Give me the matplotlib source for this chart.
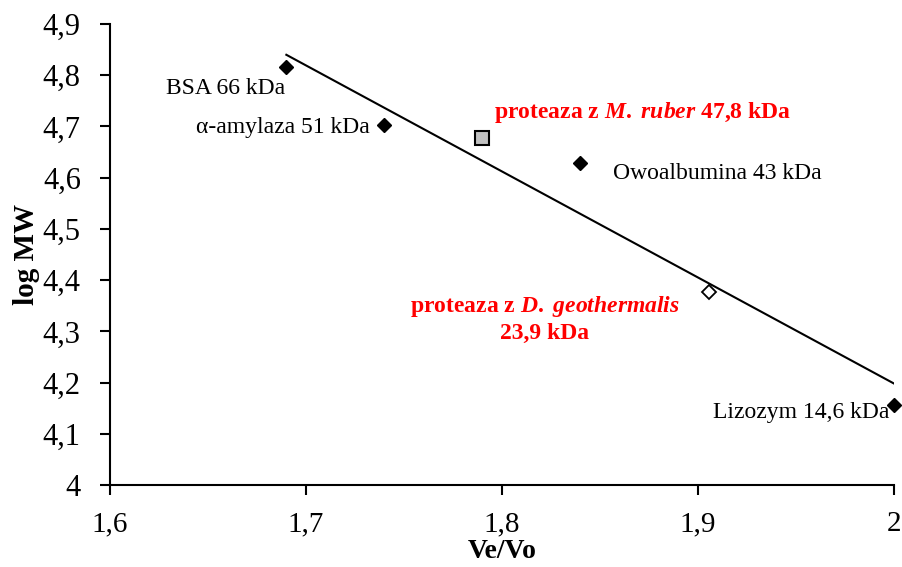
import numpy as np
import matplotlib
matplotlib.use("Agg")
import matplotlib.pyplot as plt

# font mirip Times New Roman
plt.rcParams['font.family'] = ['Liberation Serif', 'DejaVu Serif']
plt.rcParams['mathtext.fontset'] = 'custom'
plt.rcParams['mathtext.rm'] = 'Liberation Serif:bold'
plt.rcParams['mathtext.it'] = 'Liberation Serif:bold:italic'

# Data standar (wzorce)
std_x = [1.69, 1.74, 1.84, 2.00]
std_y = [4.817, 4.703, 4.628, 4.156]
std_labels = ["BSA 66 kDa", "\u03b1-amylaza 51 kDa", "Owoalbumina 43 kDa", "Lizozym 14,6 kDa"]

# Proteaza
mruber_x, mruber_y = 1.79, 4.677
dgeo_x, dgeo_y = 1.9055, 4.377

x_ticks = [1.6, 1.7, 1.8, 1.9, 2.0]
x_ticklabels = ["1,6", "1,7", "1,8", "1,9", "2"]
y_ticks = [4.0, 4.1, 4.2, 4.3, 4.4, 4.5, 4.6, 4.7, 4.8, 4.9]
y_ticklabels = ["4", "4,1", "4,2", "4,3", "4,4", "4,5", "4,6", "4,7", "4,8", "4,9"]

# Garis tren dari standar
a, b = np.polyfit(std_x, std_y, 1)
line_x = np.array([min(std_x), max(std_x)])

fig = plt.figure(figsize=(9.03, 5.67), dpi=100)
ax = fig.add_axes([0.1218, 0.1446, 0.868, 0.8131])

ax.plot(line_x, a * line_x + b, color="black", lw=1.5, zorder=2)
ax.plot(std_x, std_y, "D", color="black", ms=7.5, zorder=3, clip_on=False)
ax.plot([mruber_x], [mruber_y], "s", mfc="#c0c0c0", mec="black", mew=1.5, ms=9.5, zorder=3)
ax.plot([dgeo_x], [dgeo_y], "D", mfc="white", mec="black", mew=1.3, ms=7, zorder=3)

# Label standar
fs = 17
ax.text(1.6893, 4.775, std_labels[0], ha="right", va="center", fontsize=fs)
ax.text(1.7327, 4.697, std_labels[1], ha="right", va="center", fontsize=fs)
ax.text(1.8566, 4.609, std_labels[2], ha="left", va="center", fontsize=fs)
ax.text(1.998, 4.142, std_labels[3], ha="right", va="center", fontsize=fs)

# Label proteaza (merah)
ax.text(1.796, 4.728, r"proteaza z $M.$ $ruber$ 47,8 kDa", color="red",
        fontweight="bold", ha="left", va="center", fontsize=fs)
ax.text(1.822, 4.349, r"proteaza z $D.$ $geothermalis$", color="red",
        fontweight="bold", ha="center", va="center", fontsize=fs)
ax.text(1.822, 4.296, "23,9 kDa", color="red",
        fontweight="bold", ha="center", va="center", fontsize=fs)

ax.set_xlim(1.6, 2.0)
ax.set_ylim(4.0, 4.9)
ax.set_xticks(x_ticks)
ax.set_xticklabels(x_ticklabels)
ax.set_yticks(y_ticks)
ax.set_yticklabels(y_ticklabels)
ax.tick_params(direction="out", length=7, width=1.5, labelsize=22)
ax.tick_params(axis="y", pad=14)
ax.tick_params(axis="x", pad=12, labelsize=21)

ax.spines["top"].set_visible(False)
ax.spines["right"].set_visible(False)
ax.spines["left"].set_linewidth(1.5)
ax.spines["bottom"].set_linewidth(1.5)

ax.set_xlabel("Ve/Vo", fontsize=20, fontweight="bold", labelpad=1)
ax.set_ylabel("log MW", fontsize=21, fontweight="bold", labelpad=2)

fig.savefig("out.png", dpi=100)
